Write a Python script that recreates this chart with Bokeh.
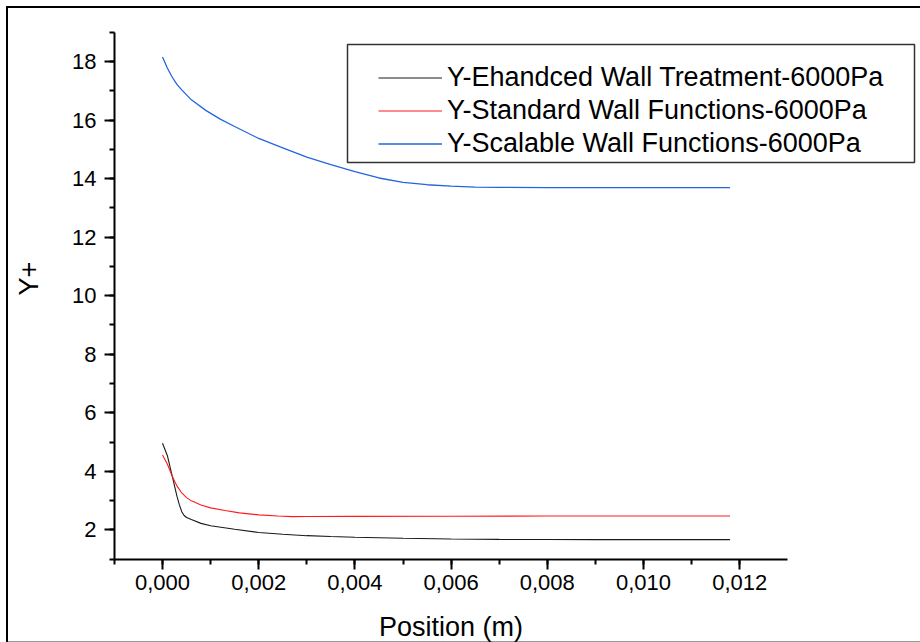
from bokeh.plotting import figure
from bokeh.models import (Legend, LegendItem, SingleIntervalTicker, CustomJSTickFormatter,
                          Range1d, BoxAnnotation, Label)
from bokeh.embed import file_html
from bokeh.resources import INLINE

# ---------------- data ----------------
x_enh = [0.0, 0.0001, 0.0002, 0.0003, 0.00035, 0.0004, 0.00045, 0.0005, 0.0006, 0.0008,
         0.001, 0.0015, 0.002, 0.0025, 0.003, 0.0035, 0.004, 0.005, 0.006, 0.007,
         0.008, 0.009, 0.010, 0.0118]
y_enh = [4.96, 4.54, 3.85, 3.15, 2.86, 2.62, 2.49, 2.42, 2.35, 2.22,
         2.14, 2.02, 1.91, 1.85, 1.80, 1.77, 1.745, 1.71, 1.685, 1.672,
         1.667, 1.665, 1.665, 1.665]

x_std = [0.0, 0.0001, 0.0002, 0.0003, 0.0004, 0.0005, 0.0006, 0.0008, 0.001, 0.0013,
         0.0016, 0.002, 0.0024, 0.0027, 0.003, 0.004, 0.006, 0.008, 0.010, 0.0118]
y_std = [4.56, 4.25, 3.84, 3.50, 3.26, 3.10, 2.99, 2.85, 2.75, 2.66,
         2.58, 2.51, 2.47, 2.45, 2.455, 2.46, 2.465, 2.47, 2.47, 2.47]

x_sca = [0.0, 0.0001, 0.0002, 0.0003, 0.0004, 0.0006, 0.0009, 0.0012, 0.0015, 0.002,
         0.0025, 0.003, 0.0035, 0.004, 0.0045, 0.005, 0.0055, 0.006, 0.0065, 0.007,
         0.008, 0.009, 0.010, 0.011, 0.0118]
y_sca = [18.15, 17.78, 17.47, 17.22, 17.03, 16.69, 16.33, 16.03, 15.78, 15.37,
         15.05, 14.73, 14.48, 14.24, 14.02, 13.87, 13.79, 13.74, 13.71, 13.70,
         13.69, 13.69, 13.69, 13.69, 13.69]

labels = ["Y-Ehandced Wall Treatment-6000Pa",
          "Y-Standard Wall Functions-6000Pa",
          "Y-Scalable Wall Functions-6000Pa"]
colors = ["#1a1a1a", "#ff1a1a", "#2266dd"]

x_label = "Position (m)"
y_label = "Y+"

x_axis_span = (-0.001, 0.013)
y_axis_span = (1, 19)

FONT = "Liberation Sans"

# ---------------- layout ----------------
W, H = 920, 642
# the plotting frame covers the whole canvas; axes are pinned inside it
PX_X0, PX_PER_X = 162.0, 48100.0      # pixel of x=0, pixels per unit x
PX_Y18, PX_PER_Y = 61.0, 29.27        # pixel of y=18, pixels per unit y
x_start = -PX_X0 / PX_PER_X
x_end = (W - PX_X0) / PX_PER_X
y_top = 18 + PX_Y18 / PX_PER_Y
y_bot = 18 - (H - PX_Y18) / PX_PER_Y

p = figure(width=W, height=H, output_backend="svg", toolbar_location=None,
           x_range=Range1d(x_start, x_end), y_range=Range1d(y_bot, y_top),
           min_border=0, min_border_left=0, min_border_right=0,
           min_border_top=0, min_border_bottom=0)
p.border_fill_color = None
p.background_fill_color = None
p.styles = {"background-color": "white",
            "box-shadow": "inset 6px 6px 0 0 #fff, inset 8px 8px 0 0 #000, inset 0 -1px 0 0 #9a9a9a"}
p.outline_line_color = None
p.xgrid.visible = False
p.ygrid.visible = False

p.xaxis.ticker = SingleIntervalTicker(interval=0.002, num_minor_ticks=2)
p.yaxis.ticker = SingleIntervalTicker(interval=2, num_minor_ticks=2)
p.xaxis.formatter = CustomJSTickFormatter(code="return tick.toFixed(3).replace('.', ',');")
p.xaxis.bounds = x_axis_span
p.yaxis.bounds = y_axis_span
p.xaxis.fixed_location = y_axis_span[0]
p.yaxis.fixed_location = x_axis_span[0]

for ax in (p.xaxis[0], p.yaxis[0]):
    ax.axis_line_width = 2
    ax.axis_line_color = "black"
    ax.major_tick_line_width = 2
    ax.minor_tick_line_width = 2
    ax.major_tick_line_color = "black"
    ax.minor_tick_line_color = "black"
    ax.major_tick_in = 0
    ax.major_tick_out = 10
    ax.minor_tick_in = 0
    ax.minor_tick_out = 5
    ax.major_label_text_font = FONT
    ax.major_label_text_font_size = "22px"
    ax.major_label_text_color = "black"

p.xaxis.major_label_standoff = 6
p.yaxis.major_label_standoff = 8

# axis titles
p.add_layout(Label(x=450.5, y=16, x_units="screen", y_units="screen", text=x_label,
                   text_align="center", text_baseline="middle",
                   text_font=FONT, text_font_size="27px", text_color="black"))
p.add_layout(Label(x=28, y=364, x_units="screen", y_units="screen", text=y_label,
                   angle=90, angle_units="deg",
                   text_align="center", text_baseline="middle",
                   text_font=FONT, text_font_size="27px", text_color="black"))

r1 = p.line(x_enh, y_enh, line_color=colors[0], line_width=1.1)
r2 = p.line(x_std, y_std, line_color=colors[1], line_width=1.1)
r3 = p.line(x_sca, y_sca, line_color=colors[2], line_width=1.3)

legend = Legend(items=[LegendItem(label=labels[0], renderers=[r1]),
                       LegendItem(label=labels[1], renderers=[r2]),
                       LegendItem(label=labels[2], renderers=[r3])],
                location=(368, 472), orientation="vertical",
                padding=10, margin=0, spacing=0,
                glyph_width=64, glyph_height=33, label_height=33,
                label_standoff=5,
                label_text_font=FONT, label_text_font_size="27px",
                label_text_color="black",
                border_line_alpha=0, background_fill_alpha=0)
p.add_layout(legend, "center")

box = BoxAnnotation(left=347, right=914, top=44, bottom=162,
                    left_units="canvas", right_units="canvas",
                    top_units="canvas", bottom_units="canvas",
                    fill_alpha=0, line_color="#333333", line_width=1.5, line_alpha=1)
p.add_layout(box)

open("out.html", "w").write(file_html(p, INLINE))
